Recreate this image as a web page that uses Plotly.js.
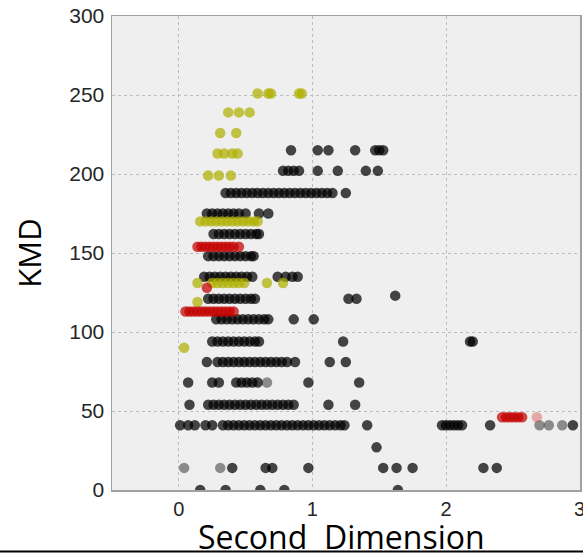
<!DOCTYPE html>
<html>
<head>
<meta charset="utf-8">
<script src="https://cdn.plot.ly/plotly-3.0.1.min.js"></script>
<style>html,body{margin:0;padding:0;background:#fff;}#chart{width:583px;height:553px;}</style>
</head>
<body>
<div id="chart"></div>
<script>
// Black points
const blackX = [
  0.16, 0.35, 0.61, 0.79, 1.64,
  0.40, 0.65, 0.70, 0.97, 1.53, 1.63, 1.75, 2.28, 2.38,
  1.48,
  0.01, 0.07, 0.12, 0.20, 0.25, 0.33, 0.37, 0.41, 0.45, 0.49, 0.53, 0.57, 0.61, 0.65, 0.69, 0.73, 0.77, 0.81, 0.85, 0.89, 0.93, 0.97, 1.01, 1.05, 1.09, 1.13, 1.17, 1.21, 1.24, 1.41, 1.97, 2.00, 2.03, 2.06, 2.09, 2.12, 2.33, 2.95,
  0.08, 0.22, 0.26, 0.30, 0.34, 0.38, 0.42, 0.46, 0.50, 0.54, 0.58, 0.62, 0.66, 0.70, 0.74, 0.78, 0.82, 0.86, 1.12, 1.32,
  0.07, 0.25, 0.30, 0.43, 0.47, 0.51, 0.55, 0.59, 0.97, 1.35,
  0.21, 0.29, 0.33, 0.37, 0.41, 0.45, 0.49, 0.53, 0.57, 0.61, 0.65, 0.69, 0.73, 0.77, 0.81, 0.87, 1.13, 1.25,
  0.25, 0.29, 0.33, 0.37, 0.41, 0.45, 0.49, 0.53, 0.57, 0.60, 1.23, 2.18, 2.20,
  0.28, 0.32, 0.36, 0.40, 0.44, 0.48, 0.52, 0.56, 0.60, 0.64, 0.67, 0.86, 1.01,
  0.22, 0.26, 0.30, 0.34, 0.38, 0.42, 0.46, 0.50, 0.54, 0.57, 1.27, 1.33, 1.62,
  0.19, 0.23, 0.27, 0.31, 0.35, 0.39, 0.43, 0.47, 0.51, 0.55, 0.74, 0.80, 0.85, 0.89,
  0.22, 0.26, 0.30, 0.34, 0.38, 0.42, 0.46, 0.50, 0.54, 0.56,
  0.26, 0.30, 0.34, 0.38, 0.42, 0.46, 0.50, 0.54, 0.58, 0.60,
  0.21, 0.25, 0.29, 0.33, 0.37, 0.41, 0.45, 0.50, 0.60, 0.67,
  0.35, 0.39, 0.43, 0.47, 0.51, 0.55, 0.59, 0.63, 0.67, 0.71, 0.75, 0.79, 0.83, 0.87, 0.91, 0.95, 0.99, 1.03, 1.07, 1.11, 1.15, 1.25,
  0.78, 0.82, 0.86, 0.90, 1.04, 1.19, 1.40, 1.49,
  0.84, 1.04, 1.12, 1.32, 1.47, 1.50, 1.53
];
const blackY = [
  0, 0, 0, 0, 0,
  14, 14, 14, 14, 14, 14, 14, 14, 14,
  27,
  41, 41, 41, 41, 41, 41, 41, 41, 41, 41, 41, 41, 41, 41, 41, 41, 41, 41, 41, 41, 41, 41, 41, 41, 41, 41, 41, 41, 41, 41, 41, 41, 41, 41, 41, 41, 41, 41,
  54, 54, 54, 54, 54, 54, 54, 54, 54, 54, 54, 54, 54, 54, 54, 54, 54, 54, 54, 54,
  68, 68, 68, 68, 68, 68, 68, 68, 68, 68,
  81, 81, 81, 81, 81, 81, 81, 81, 81, 81, 81, 81, 81, 81, 81, 81, 81, 81,
  94, 94, 94, 94, 94, 94, 94, 94, 94, 94, 94, 94, 94,
  108, 108, 108, 108, 108, 108, 108, 108, 108, 108, 108, 108, 108,
  121, 121, 121, 121, 121, 121, 121, 121, 121, 121, 121, 121, 123,
  135, 135, 135, 135, 135, 135, 135, 135, 135, 135, 135, 135, 135, 135,
  148, 148, 148, 148, 148, 148, 148, 148, 148, 148,
  162, 162, 162, 162, 162, 162, 162, 162, 162, 162,
  175, 175, 175, 175, 175, 175, 175, 175, 175, 175,
  188, 188, 188, 188, 188, 188, 188, 188, 188, 188, 188, 188, 188, 188, 188, 188, 188, 188, 188, 188, 188, 188,
  202, 202, 202, 202, 202, 202, 202, 202,
  215, 215, 215, 215, 215, 215, 215
];
// Faded (light grey) points
const fadedX = [0.04, 0.31, 2.70, 2.77, 2.87, 0.66];
const fadedY = [14, 14, 41, 41, 41, 68];
// Yellow points
const yellowX = [
  0.59, 0.67, 0.69, 0.90, 0.92,
  0.37, 0.45, 0.53,
  0.31, 0.43,
  0.29, 0.34, 0.40, 0.44,
  0.22, 0.30, 0.39,
  0.16, 0.20, 0.24, 0.28, 0.32, 0.36, 0.40, 0.44, 0.48, 0.52, 0.56, 0.59,
  0.14, 0.25, 0.29, 0.33, 0.37, 0.41, 0.45, 0.49, 0.66, 0.78,
  0.14, 0.04
];
const yellowY = [
  251, 251, 251, 251, 251,
  239, 239, 239,
  226, 226,
  213, 213, 213, 213,
  199, 199, 199,
  170, 170, 170, 170, 170, 170, 170, 170, 170, 170, 170, 170,
  131, 131, 131, 131, 131, 131, 131, 131, 131, 131,
  119, 90
];
// Red points
const redX = [
  0.14, 0.17, 0.20, 0.23, 0.26, 0.29, 0.32, 0.35, 0.38, 0.41, 0.45,
  0.21,
  0.05, 0.08, 0.11, 0.14, 0.17, 0.20, 0.23, 0.26, 0.29, 0.32, 0.35, 0.38, 0.41,
  2.42, 2.45, 2.48, 2.51, 2.54, 2.57
];
const redY = [
  154, 154, 154, 154, 154, 154, 154, 154, 154, 154, 154,
  128,
  113, 113, 113, 113, 113, 113, 113, 113, 113, 113, 113, 113, 113,
  46, 46, 46, 46, 46, 46
];
const pinkX = [2.68];
const pinkY = [46];

const yTicks = [0, 50, 100, 150, 200, 250, 300];
const xTicks = [0, 1, 2, 3];
const xTitle = 'Second\u00a0 Dimension';
const yTitle = 'KMD';

const mk = (c, o) => ({size: 10.5, color: c, opacity: o, line: {width: 0}});
const traces = [
  {x: fadedX, y: fadedY, type: 'scatter', mode: 'markers', marker: mk('rgb(40,40,40)', 0.5), hoverinfo: 'skip'},
  {x: blackX, y: blackY, type: 'scatter', mode: 'markers', marker: mk('rgb(0,0,0)', 0.72)},
  {x: yellowX, y: yellowY, type: 'scatter', mode: 'markers', marker: mk('rgb(175,175,0)', 0.72)},
  {x: redX, y: redY, type: 'scatter', mode: 'markers', marker: mk('rgb(195,0,0)', 0.72)},
  {x: pinkX, y: pinkY, type: 'scatter', mode: 'markers', marker: mk('rgb(220,80,80)', 0.45)}
];

const layout = {
  width: 583, height: 553,
  margin: {l: 112, r: 3, t: 16, b: 63},
  paper_bgcolor: '#ffffff',
  plot_bgcolor: '#efefef',
  showlegend: false,
  font: {family: '"Liberation Sans", Arial, sans-serif', color: '#262626'},
  xaxis: {
    range: [-0.5, 3.003], tickvals: xTicks, ticktext: xTicks.map(String),
    ticklabeloverflow: 'allow',
    showgrid: true, gridcolor: '#bdbdbd', griddash: 'dot', gridwidth: 1,
    zeroline: false, showline: true, linecolor: '#a0a0a0', linewidth: 1.5, mirror: true,
    ticks: '', tickfont: {size: 20, color: '#262626'},
    automargin: false
  },
  yaxis: {
    range: [0, 300], tickvals: yTicks, ticktext: yTicks.map(String),
    showgrid: true, gridcolor: '#bdbdbd', griddash: 'dot', gridwidth: 1,
    zeroline: false, showline: true, linecolor: '#a0a0a0', linewidth: 1.5, mirror: true,
    ticks: '', tickfont: {size: 21, color: '#262626'}, ticklabelstandoff: 2,
    title: {text: yTitle, font: {family: '"Open Sans", "Noto Sans", sans-serif', size: 31, color: '#000'}, standoff: 18},
    automargin: false
  },
  annotations: [
    {text: xTitle, xref: 'paper', yref: 'paper', x: 0.490, y: -46/474, xanchor: 'center', yanchor: 'middle',
     showarrow: false, font: {family: '"Open Sans", "Noto Sans", sans-serif', size: 32, color: '#000'}}
  ],
  shapes: [
    {type: 'line', xref: 'paper', yref: 'paper', x0: -112/468, x1: 1.01, y0: -61.5/474, y1: -61.5/474, line: {color: '#000', width: 2}}
  ]
};

Plotly.newPlot('chart', traces, layout, {staticPlot: true, displayModeBar: false});
</script>
</body>
</html>
